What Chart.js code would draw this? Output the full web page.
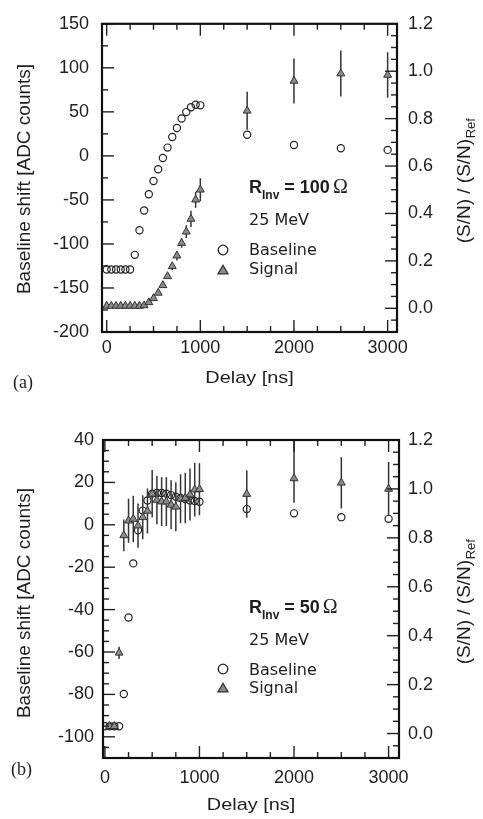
<!DOCTYPE html>
<html><head><meta charset="utf-8">
<script src="https://cdn.jsdelivr.net/npm/chart.js@4.4.1/dist/chart.umd.min.js"></script>
<style>
html,body{margin:0;padding:0;background:#fff;}
#wrapA{position:absolute;left:0;top:0;width:483px;height:400px;}
#wrapB{position:absolute;left:0;top:400px;width:483px;height:419px;}
</style></head><body>
<div id="wrapA"><canvas id="cA" width="483" height="400"></canvas></div>
<div id="wrapB"><canvas id="cB" width="483" height="419"></canvas></div>
<script>
// ---------- Panel (a): R_Inv = 100 Ohm ----------
const delayA = [0,50,100,150,200,250,300,350,400,450,500,550,600,650,700,750,800,850,900,950,1000,1500,2000,2500,3000];
const baselineA = [-129,-129,-129,-129,-129,-129,-112.4,-84.5,-62,-43.5,-28.5,-15.2,-2.4,9.4,21.5,31.7,42.4,49.7,55.2,58.1,57.4,24,12.3,8.6,6.8];
const signalA = [0.01,0.01,0.01,0.01,0.01,0.01,0.01,0.01,0.012,0.025,0.042,0.065,0.097,0.135,0.177,0.222,0.275,0.323,0.377,0.458,0.5,0.833,0.959,0.99,0.984];
const signalErrA = [0,0,0,0,0,0,0,0,0,0,0,0,0,0.01,0.015,0.02,0.02,0.027,0.034,0.034,0.048,0.08,0.095,0.097,0.096];

// ---------- Panel (b): R_Inv = 50 Ohm ----------
const delayBaseB = [0,50,100,150,200,250,300,350,400,450,500,550,600,650,700,750,800,850,900,950,1000,1500,2000,2500,3000];
const baselineB = [-95,-95,-95,-95,-79.8,-43.7,-18.2,-2.6,6.7,11.5,14.7,15,15,14.7,14,13.2,12.7,12.2,11.5,11.2,10.9,7.4,5.4,3.6,2.8];
const delaySigB = [50,100,150,200,250,300,350,400,450,500,550,600,650,700,750,800,850,900,950,1000,1500,2000,2500,3000];
const signalB = [0.03,0.03,0.33,0.81,0.87,0.877,0.85,0.884,0.91,0.98,0.955,0.948,0.948,0.935,0.927,0.96,0.963,0.977,0.997,0.999,0.979,1.043,1.025,1.0];
const signalErrUpB = [0,0,0.025,0.065,0.09,0.095,0.09,0.09,0.092,0.097,0.099,0.1,0.1,0.1,0.1,0.1,0.103,0.106,0.11,0.106,0.097,0.157,0.105,0.11];
const signalErrDownB = [0,0,0.025,0.065,0.09,0.095,0.09,0.09,0.092,0.097,0.099,0.1,0.1,0.1,0.1,0.1,0.103,0.106,0.11,0.106,0.097,0.10,0.105,0.11];

// ---------- Tick labels ----------
const xTickLabels = [0,1000,2000,3000];
const leftTicksA = [-200,-150,-100,-50,0,50,100,150];
const leftTicksB = [-100,-80,-60,-40,-20,0,20,40];
const rightTicks = [0,0.2,0.4,0.6,0.8,1.0,1.2];

const FONT = "'Liberation Sans', Arial, Helvetica, sans-serif";
const TXT = '#1e1e1e';

function pts(xs, ys){ return xs.map((x,i)=>({x:x, y:ys[i]})); }

function makeDeco(cfg){
  return {
    id: 'deco' + cfg.tag,
    beforeDatasetDraw(chart, args){
      const ds = chart.data.datasets[args.index];
      if (!ds.errUp) return;
      const ctx = chart.ctx, a = chart.chartArea;
      const xs = chart.scales.x, ys = chart.scales[ds.yAxisID];
      ctx.save();
      ctx.beginPath(); ctx.rect(a.left, a.top, a.right-a.left, a.bottom-a.top); ctx.clip();
      ctx.strokeStyle = '#333'; ctx.lineWidth = 1.5;
      ds.data.forEach((p,i)=>{
        if (!ds.errUp[i] && !ds.errDown[i]) return;
        const px = xs.getPixelForValue(p.x);
        ctx.beginPath();
        ctx.moveTo(px, ys.getPixelForValue(p.y + ds.errUp[i]));
        ctx.lineTo(px, ys.getPixelForValue(p.y - ds.errDown[i]));
        ctx.stroke();
      });
      ctx.restore();
    },
    afterDraw(chart){
      const ctx = chart.ctx, a = chart.chartArea;
      ctx.save();
      ctx.strokeStyle = '#222'; ctx.lineWidth = 1.4;
      const ticks = (scale, step, majorEvery, side) => {
        const k0 = Math.ceil(scale.min/step - 1e-9), k1 = Math.floor(scale.max/step + 1e-9);
        for (let k = k0; k <= k1; k++){
          const len = (k % majorEvery === 0) ? 12 : 6;
          const p = scale.getPixelForValue(k*step);
          ctx.beginPath();
          if (side === 'x'){
            ctx.moveTo(p, a.bottom); ctx.lineTo(p, a.bottom - len);
            ctx.moveTo(p, a.top); ctx.lineTo(p, a.top + len);
          } else if (side === 'left'){
            ctx.moveTo(a.left, p); ctx.lineTo(a.left + len, p);
          } else {
            ctx.moveTo(a.right, p); ctx.lineTo(a.right - len, p);
          }
          ctx.stroke();
        }
      };
      ticks(chart.scales.x, 250, 4, 'x');
      ticks(chart.scales.y, cfg.leftMinor, cfg.leftMajorEvery, 'left');
      ticks(chart.scales.y2, 0.05, 4, 'right');
      // frame
      ctx.lineWidth = 2.2; ctx.strokeStyle = '#111';
      ctx.strokeRect(a.left, a.top, a.right-a.left, a.bottom-a.top);

      ctx.fillStyle = TXT;
      // x title
      ctx.save();
      ctx.translate((a.left+a.right)/2, cfg.xTitleY);
      ctx.scale(1.17, 1);
      ctx.font = '17px ' + FONT; ctx.textAlign = 'center'; ctx.textBaseline = 'middle';
      ctx.fillText('Delay [ns]', 0, 0);
      ctx.restore();
      // left title
      ctx.save();
      ctx.translate(cfg.leftTitle[0], cfg.leftTitle[1]); ctx.rotate(-Math.PI/2);
      ctx.font = '19px ' + FONT; ctx.textAlign = 'center'; ctx.textBaseline = 'middle';
      ctx.fillText('Baseline shift [ADC counts]', 0, 0);
      ctx.restore();
      // right title with subscript
      ctx.save();
      ctx.translate(cfg.rightTitle[0], cfg.rightTitle[1]); ctx.rotate(-Math.PI/2);
      ctx.textBaseline = 'middle'; ctx.textAlign = 'left';
      ctx.font = '19px ' + FONT;
      const main = '(S/N) / (S/N)';
      const wm = ctx.measureText(main).width;
      ctx.font = '13px ' + FONT;
      const wr = ctx.measureText('Ref').width;
      const x0 = -(wm + wr)/2;
      ctx.font = '19px ' + FONT; ctx.fillText(main, x0, 0);
      ctx.font = '13px ' + FONT; ctx.fillText('Ref', x0 + wm + 0.5, 6);
      ctx.restore();
      // panel label
      ctx.font = '18px "Liberation Serif", "Times New Roman", serif';
      ctx.textAlign = 'left'; ctx.textBaseline = 'middle';
      ctx.fillText(cfg.panel, cfg.panelPos[0], cfg.panelPos[1]);
      // annotation
      const an = cfg.annot;
      ctx.textBaseline = 'alphabetic';
      let x = an.x;
      ctx.font = 'bold 18px ' + FONT; ctx.fillText('R', x, an.rY); x += ctx.measureText('R').width;
      ctx.font = 'bold 12px ' + FONT; ctx.fillText('Inv', x, an.rY + 6); x += ctx.measureText('Inv').width;
      ctx.font = 'bold 18px ' + FONT; const t = ' = ' + an.ohms + ' '; ctx.fillText(t, x, an.rY); x += ctx.measureText(t).width - 2;
      ctx.font = '20px "Liberation Serif", serif'; ctx.fillText('\u03A9', x, an.rY);
      ctx.font = '16px "DejaVu Sans", sans-serif';
      ctx.fillText('25 MeV', an.x, an.eY);
      ctx.fillText('Baseline', an.x, an.bY);
      ctx.fillText('Signal', an.x, an.sY);
      // legend symbols
      ctx.lineWidth = 1.3; ctx.strokeStyle = '#222';
      ctx.beginPath(); ctx.arc(an.mx, an.cY, 4.8, 0, Math.PI*2); ctx.stroke();
      const r = 5.8;
      ctx.beginPath();
      ctx.moveTo(an.mx, an.tY - r);
      ctx.lineTo(an.mx + r*Math.sin(2*Math.PI/3), an.tY - r*Math.cos(2*Math.PI/3));
      ctx.lineTo(an.mx + r*Math.sin(4*Math.PI/3), an.tY - r*Math.cos(4*Math.PI/3));
      ctx.closePath();
      ctx.fillStyle = '#8a8a8a'; ctx.fill(); ctx.strokeStyle = '#333'; ctx.stroke();
      ctx.restore();
    }
  };
}

function buildChart(id, cfg){
  const tickFont = {family: FONT, size: 18};
  return new Chart(document.getElementById(id), {
    type: 'scatter',
    data: { datasets: [
      { label: 'Baseline', data: pts(cfg.bx, cfg.by), yAxisID: 'y', pointStyle: 'circle',
        pointRadius: 3.6, borderColor: '#222', backgroundColor: 'rgba(0,0,0,0)', borderWidth: 1.2, order: 2 },
      { label: 'Signal', data: pts(cfg.sx, cfg.sy), yAxisID: 'y2', pointStyle: 'triangle',
        pointRadius: 4.6, borderColor: '#333', backgroundColor: '#8a8a8a', borderWidth: 1, order: 1,
        errUp: cfg.errUp, errDown: cfg.errDown }
    ]},
    options: {
      responsive: false, animation: false, devicePixelRatio: 1,
      layout: { padding: { top: cfg.top, left: 0, right: 0, bottom: 0 } },
      plugins: { legend: { display: false }, tooltip: { enabled: false } },
      scales: {
        x: { type: 'linear', position: 'bottom', min: cfg.xMin, max: cfg.xMax,
             grid: { display: false, drawTicks: false }, border: { display: false },
             ticks: { font: tickFont, color: TXT, padding: cfg.xPad, maxRotation: 0, autoSkip: false, callback: v => String(v) },
             afterBuildTicks: s => { s.ticks = xTickLabels.map(v => ({value: v})); },
             afterFit: s => { s.height = cfg.xH; } },
        y: { type: 'linear', position: 'left', min: cfg.yMin, max: cfg.yMax,
             grid: { display: false, drawTicks: false }, border: { display: false },
             ticks: { font: tickFont, color: TXT, padding: cfg.yPad, autoSkip: false, callback: v => String(v) },
             afterBuildTicks: s => { s.ticks = cfg.leftTicks.map(v => ({value: v})); },
             afterFit: s => { s.width = cfg.yW; } },
        y2: { type: 'linear', position: 'right', min: -0.1, max: 1.2,
             grid: { display: false, drawTicks: false }, border: { display: false },
             ticks: { font: tickFont, color: TXT, padding: cfg.y2Pad, autoSkip: false, callback: v => v.toFixed(1) },
             afterBuildTicks: s => { s.ticks = rightTicks.map(v => ({value: v})); },
             afterFit: s => { s.width = cfg.y2W; } }
      }
    },
    plugins: [makeDeco(cfg)]
  });
}

buildChart('cA', {
  tag: 'A', bx: delayA, by: baselineA, sx: delayA, sy: signalA, errUp: signalErrA, errDown: signalErrA,
  top: 13, xMin: -50, xMax: 3100, yMin: -200, yMax: 150, leftTicks: leftTicksA,
  xH: 68, yW: 102, y2W: 86, xPad: 5, yPad: 13, y2Pad: 11,
  leftMinor: 25, leftMajorEvery: 2,
  xTitleY: 378, leftTitle: [25, 179], rightTitle: [465, 181],
  panel: '(a)', panelPos: [13, 383],
  annot: { x: 249, rY: 193, ohms: '100', eY: 225, bY: 255, sY: 274, mx: 223, cY: 250, tY: 271 }
});

buildChart('cB', {
  tag: 'B', bx: delayBaseB, by: baselineB, sx: delaySigB, sy: signalB, errUp: signalErrUpB, errDown: signalErrDownB,
  top: 40, xMin: -20, xMax: 3110, yMin: -110, yMax: 40, leftTicks: leftTicksB,
  xH: 61, yW: 103, y2W: 84, xPad: 9, yPad: 9, y2Pad: 9,
  leftMinor: 5, leftMajorEvery: 4,
  xTitleY: 405, leftTitle: [25, 203], rightTitle: [465, 202],
  panel: '(b)', panelPos: [11, 370],
  annot: { x: 249, rY: 213, ohms: '50', eY: 245, bY: 275, sY: 293, mx: 223, cY: 269, tY: 289 }
});
</script>
</body></html>
